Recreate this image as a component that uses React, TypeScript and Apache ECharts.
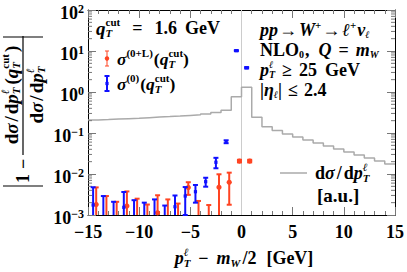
import React, { useEffect, useRef } from 'react';
import * as echarts from 'echarts';

// ---------------- data ----------------
const histEdges = [-15, -14, -13, -12, -11, -10, -9, -8, -7, -6, -5, -4, -3, -2, -1, 0, 1, 2, 3, 4, 5, 6, 7, 8, 9, 10, 11, 12, 13, 14];
const histValues = [0.207, 0.212, 0.218, 0.224, 0.23, 0.237, 0.244, 0.251, 0.259, 0.268, 0.278, 0.29, 0.318, 0.36, 0.77, 1.3, 0.241, 0.143, 0.115, 0.0946, 0.0798, 0.0675, 0.057, 0.0482, 0.0407, 0.0344, 0.0291, 0.0246, 0.0207, 0.0175];

const blueX = [-14.5, -13.5, -12.5, -11.5, -10.5, -9.5, -8.5, -7.5, -6.5, -5.5, -4.5, -3.5, -2.5, -1.5, -0.5, 0.5];
const blueVal = [0.00175, 0.0006, 0.0004, 0.00154, 0.0006, 0.0004, 0.0006, 0.0004, 0.00159, 0.0029, 0.0037, 0.0065, 0.0193, 0.0614, 10.2, 3.9];
const blueErr = [0.003, 0.0023, 0.0017, 0.0021, 0.0017, 0.0016, 0.0018, 0.0013, 0.0014, 0.0019, 0.0017, 0.0016, 0.0055, 0.005, 0.3, 0.15];

const redX = [-14.2, -13.2, -12.2, -11.2, -10.2, -9.2, -8.2, -7.2, -6.2, -5.2, -4.2, -3.2, -2.2, -1.2, -0.2, 0.8];
const redVal = [0.00181, 0.0006, 0.0004, 0.00166, 0.0005, 0.0004, 0.00113, 0.0005, 0.0005, 0.0047, 0.0004, 0.0003, 0.00474, 0.00628, 0.0207, 0.0207];
const redErr = [0.0029, 0.0023, 0.0017, 0.0021, 0.002, 0.0014, 0.0019, 0.0019, 0.0014, 0.0016, 0.0018, 0.00145, 0.0051, 0.0045, 0.0015, 0.0015];

const minorMultipliers = [2, 3, 4, 5, 6, 7, 8, 9];
const decades = [-3, -2, -1, 0, 1];

const RED = '#ff4422';
const BLUE = '#1010ff';
const HIST = '#aaaaaa';
const FF = '"Liberation Serif", "Times New Roman", serif';

// ---------------- text helpers ----------------
type Tok = { t?: string; s?: number; i?: boolean; g?: number; sup?: string; sub?: string; supI?: boolean; subI?: boolean; ss?: number; dy?: number; supDy?: number; subDy?: number };
let mctx: any = null;
function measure(t: string, size: number, it: boolean) {
  if (!mctx) mctx = document.createElement('canvas').getContext('2d');
  mctx.font = `${it ? 'italic ' : ''}bold ${size}px ${FF}`;
  return mctx.measureText(t).width;
}
function txt(t: string, x: number, y: number, size: number, it: boolean) {
  return {
    type: 'text', x, y, silent: true,
    style: { text: t, fontFamily: FF, fontSize: size, fontWeight: 'bold', fontStyle: it ? 'italic' : 'normal', fill: '#000', align: 'left', verticalAlign: 'middle' },
  };
}
function mline(tokens: Tok[], x0: number, y0: number, anchor: 'left' | 'center' = 'left', base = 18): any[] {
  const widths = tokens.map((tk) => {
    if (tk.g != null) return tk.g;
    if (tk.sup != null || tk.sub != null) {
      const ss = tk.ss ?? 11;
      return Math.max(tk.sup ? measure(tk.sup, ss, !!tk.supI) : 0, tk.sub ? measure(tk.sub, ss, !!tk.subI) : 0);
    }
    return measure(tk.t as string, tk.s ?? base, !!tk.i);
  });
  const total = widths.reduce((a, b) => a + b, 0);
  let x = anchor === 'center' ? x0 - total / 2 : x0;
  const out: any[] = [];
  tokens.forEach((tk, k) => {
    if (tk.g == null) {
      if (tk.sup != null || tk.sub != null) {
        const ss = tk.ss ?? 11;
        if (tk.sup) out.push(txt(tk.sup, x, y0 + (tk.supDy ?? -6), ss, !!tk.supI));
        if (tk.sub) out.push(txt(tk.sub, x, y0 + (tk.subDy ?? 5), ss, !!tk.subI));
      } else out.push(txt(tk.t as string, x, y0 + (tk.dy ?? 0), tk.s ?? base, !!tk.i));
    }
    x += widths[k];
  });
  return out;
}

// ---------------- render helpers ----------------
function errRender(color: string, lw: number, capW: number, kind: 'circle' | 'rect') {
  return (params: any, api: any) => {
    const x = api.value(0), v = api.value(1), e = api.value(2);
    const cs = params.coordSys;
    const yBottom = cs.y + cs.height, yTop = cs.y;
    const hiP = api.coord([x, v + e]);
    const px = hiP[0];
    const loV = v - e;
    let loY = loV > 0 ? api.coord([x, loV])[1] : Infinity;
    const loClamped = loY > yBottom;
    if (loClamped) loY = yBottom;
    const hiY = Math.max(hiP[1], yTop);
    const st = { stroke: color, lineWidth: lw };
    const children: any[] = [{ type: 'line', shape: { x1: px, y1: hiY, x2: px, y2: loY }, style: st }];
    if (hiP[1] >= yTop) children.push({ type: 'line', shape: { x1: px - capW / 2, y1: hiY, x2: px + capW / 2, y2: hiY }, style: st });
    if (!loClamped) children.push({ type: 'line', shape: { x1: px - capW / 2, y1: loY, x2: px + capW / 2, y2: loY }, style: st });
    if (v >= 0.001) {
      const p = api.coord([x, v]);
      if (kind === 'circle') children.push({ type: 'circle', shape: { cx: p[0], cy: p[1], r: 2.6 }, style: { fill: color } });
      else children.push({ type: 'rect', shape: { x: p[0] - 1.6, y: p[1] - 1.6, width: 3.2, height: 3.2 }, style: { fill: color } });
    }
    return { type: 'group', children };
  };
}

function buildOption(): any {
  const axisCommonX = {
    type: 'value', min: -15, max: 15, interval: 5,
    axisLine: { show: true, onZero: false, lineStyle: { color: '#000', width: 1 } },
    axisTick: { show: true, inside: true, length: 8, lineStyle: { color: '#777', width: 1 } },
    minorTick: { show: true, splitNumber: 5, length: 4, lineStyle: { color: '#777', width: 1 } },
    splitLine: { show: false },
  };
  const axisCommonY = {
    type: 'log', logBase: 10, min: 0.001, max: 100,
    axisLine: { show: true, onZero: false, lineStyle: { color: '#000', width: 1 } },
    axisTick: { show: true, inside: true, length: 8, lineStyle: { color: '#777', width: 1 } },
    splitLine: { show: false },
  };

  const histData = histEdges.map((x, i) => [x, histValues[i]]).concat([[15, histValues[histValues.length - 1]]]);
  const minorTicks: number[][] = [];
  decades.forEach((d) => minorMultipliers.forEach((m) => minorTicks.push([0, m * Math.pow(10, d)])));

  const numTokens: Tok[] = [
    { t: 'd' }, { t: 'σ', i: true }, { g: 2 }, { t: '/' }, { g: 2 }, { t: 'd' }, { t: 'p', i: true }, { sup: 'ℓ', sub: 'T', subI: true, supI: true }, { g: 3 },
    { t: '(' }, { t: 'q', i: true }, { sup: 'cut', sub: 'T', subI: true }, { g: 2 }, { t: ')' },
  ];
  const denTokens: Tok[] = [{ t: 'd' }, { t: 'σ', i: true }, { g: 2 }, { t: '/' }, { g: 2 }, { t: 'd' }, { t: 'p', i: true }, { sup: 'ℓ', sub: 'T', subI: true, supI: true }];

  const ytitle = {
    type: 'group', x: 23, y: 186, rotation: Math.PI / 2,
    children: [
      { type: 'line', shape: { x1: 0, y1: -20, x2: 0, y2: 20 }, style: { stroke: '#000', lineWidth: 1.2 } },
      ...mline([{ t: '1' }, { g: 5 }, { t: '−' }], 3, 0, 'left', 18),
      { type: 'line', shape: { x1: 31, y1: 0, x2: 150, y2: 0 }, style: { stroke: '#000', lineWidth: 1.2 } },
      ...mline(numTokens, 91, -12, 'center', 19),
      ...mline(denTokens, 91, 13, 'center', 19),
      { type: 'line', shape: { x1: 149, y1: -20, x2: 149, y2: 20 }, style: { stroke: '#000', lineWidth: 1.2 } },
    ],
  };

  const legendMarks = [
    { type: 'line', shape: { x1: 107, y1: 51, x2: 107, y2: 66 }, style: { stroke: RED, lineWidth: 1 } },
    { type: 'line', shape: { x1: 105, y1: 51, x2: 109, y2: 51 }, style: { stroke: RED, lineWidth: 1 } },
    { type: 'line', shape: { x1: 105, y1: 66, x2: 109, y2: 66 }, style: { stroke: RED, lineWidth: 1 } },
    { type: 'circle', shape: { cx: 107, cy: 58.5, r: 2.2 }, style: { fill: RED } },
    { type: 'line', shape: { x1: 107, y1: 76, x2: 107, y2: 91 }, style: { stroke: BLUE, lineWidth: 2 } },
    { type: 'line', shape: { x1: 104.5, y1: 76, x2: 109.5, y2: 76 }, style: { stroke: BLUE, lineWidth: 2 } },
    { type: 'line', shape: { x1: 104.5, y1: 91, x2: 109.5, y2: 91 }, style: { stroke: BLUE, lineWidth: 2 } },
    { type: 'rect', shape: { x: 105.4, y: 81.9, width: 3.2, height: 3.2 }, style: { fill: BLUE } },
    { type: 'line', shape: { x1: 280, y1: 173, x2: 307, y2: 173 }, style: { stroke: HIST, lineWidth: 1.5 } },
  ];

  const texts = [
    ...mline([{ t: 'q', i: true, s: 19 }, { sup: 'cut', sub: 'T', subI: true }, { g: 12 }, { t: '=' }, { g: 12 }, { t: '1.6' }, { g: 8 }, { t: 'GeV' }], 96, 28),
    ...mline([{ t: 'σ', i: true }, { sup: '(0+L)', ss: 11 }, { g: 1 }, { t: '(' }, { t: 'q', i: true }, { sup: 'cut', sub: 'T', subI: true }, { t: ')' }], 117, 59, 'left', 17.5),
    ...mline([{ t: 'σ', i: true }, { sup: '(0)', ss: 11 }, { g: 1 }, { t: '(' }, { t: 'q', i: true }, { sup: 'cut', sub: 'T', subI: true }, { t: ')' }], 117, 84, 'left', 17.5),
    ...mline([{ t: 'pp', i: true }, { g: 1 }, { t: '→' }, { g: 2 }, { t: 'W', i: true }, { sup: '+', supDy: -5 }, { g: 1 }, { t: '→' }, { g: 2 }, { t: 'ℓ', i: true }, { sup: '+', supDy: -5 }, { g: 1 }, { t: 'ν', i: true }, { sub: 'ℓ', subI: true, ss: 10, subDy: 4 }], 260, 30),
    ...mline([{ t: 'NLO' }, { sub: '0', ss: 10, subDy: 4 }, { g: 1 }, { t: ',' }, { g: 9 }, { t: 'Q', i: true }, { g: 7 }, { t: '=' }, { g: 7 }, { t: 'm', i: true }, { sub: 'W', subI: true, ss: 10, subDy: 4 }], 260, 50),
    ...mline([{ t: 'p', i: true }, { sup: 'ℓ', sub: 'T', subI: true, supI: true, ss: 10, supDy: -6, subDy: 4.5 }, { g: 7 }, { t: '≥' }, { g: 7 }, { t: '25' }, { g: 8 }, { t: 'GeV' }], 260, 70),
    ...mline([{ t: '|' }, { t: 'η', i: true }, { sub: 'ℓ', subI: true, ss: 10, subDy: 4 }, { t: '|' }, { g: 6 }, { t: '≤' }, { g: 6 }, { t: '2.4' }], 260, 90),
    ...mline([{ t: 'd' }, { t: 'σ', i: true }, { g: 2 }, { t: '/' }, { g: 2 }, { t: 'd' }, { t: 'p', i: true }, { sup: 'ℓ', sub: 'T', subI: true, supI: true }], 315, 173),
    ...mline([{ t: '[a.u.]' }], 317, 195, 'left', 19),
    ...mline([{ t: 'p', i: true }, { sup: 'ℓ', sub: 'T', subI: true, supI: true }, { g: 8 }, { t: '−' }, { g: 8 }, { t: 'm', i: true }, { sub: 'W', subI: true }, { g: 2 }, { t: '/' }, { t: '2' }, { g: 10 }, { t: '[GeV]' }], 244, 258, 'center'),
  ];

  return {
    animation: false,
    backgroundColor: '#fff',
    grid: { left: 88, right: 10, top: 10, bottom: 57, containLabel: false },
    xAxis: [
      { ...axisCommonX, position: 'bottom', axisLabel: { show: true, formatter: (v: number) => (v < 0 ? '−' + -v : String(v)), fontFamily: FF, fontWeight: 'bold', fontSize: 18, color: '#000', margin: 8 } },
      { ...axisCommonX, position: 'top', axisLabel: { show: false } },
    ],
    yAxis: [
      {
        ...axisCommonY, position: 'left',
        axisLabel: {
          show: true, margin: 4, padding: [6, 0, 0, 0],
          formatter: (v: number) => {
            const e = Math.round(Math.log10(v));
            return `{b|10}{s|${e < 0 ? '−' + -e : e}}`;
          },
          rich: {
            b: { fontFamily: FF, fontWeight: 'bold', fontSize: 18, color: '#000', lineHeight: 20 },
            s: { fontFamily: FF, fontWeight: 'bold', fontSize: 12, color: '#000', lineHeight: 12, verticalAlign: 'top' },
          },
        },
      },
      { ...axisCommonY, position: 'right', axisLabel: { show: false } },
    ],
    graphic: [ytitle, ...legendMarks, ...texts],
    series: [
      { type: 'line', data: [[0, 0.001], [0, 100]], symbol: 'none', silent: true, lineStyle: { color: '#cccccc', width: 1 }, z: 1 },
      { type: 'line', step: 'end', data: histData, symbol: 'none', silent: true, lineStyle: { color: HIST, width: 1.5 }, z: 2 },
      {
        type: 'custom', data: minorTicks, silent: true, z: 3,
        renderItem: (params: any, api: any) => {
          const cs = params.coordSys;
          const y = api.coord([0, api.value(1)])[1];
          const st = { stroke: '#777', lineWidth: 1 };
          return {
            type: 'group', children: [
              { type: 'line', shape: { x1: cs.x, y1: y, x2: cs.x + 4, y2: y }, style: st },
              { type: 'line', shape: { x1: cs.x + cs.width - 4, y1: y, x2: cs.x + cs.width, y2: y }, style: st },
            ],
          };
        },
      },
      { type: 'custom', data: blueX.map((x, i) => [x, blueVal[i], blueErr[i]]), encode: { x: 0, y: 1 }, renderItem: errRender(BLUE, 2, 5, 'rect'), z: 5 },
      { type: 'custom', data: redX.map((x, i) => [x, redVal[i], redErr[i]]), encode: { x: 0, y: 1 }, renderItem: errRender(RED, 2, 5, 'circle'), z: 4 },
    ],
  };
}

export default function App() {
  const ref = useRef<HTMLDivElement>(null);
  useEffect(() => {
    const chart = echarts.init(ref.current as HTMLDivElement, null, { renderer: 'svg' });
    chart.setOption(buildOption());
    return () => chart.dispose();
  }, []);
  return <div ref={ref} style={{ position: 'fixed', left: 0, top: 0, width: 407, height: 272, background: '#fff' }} />;
}
